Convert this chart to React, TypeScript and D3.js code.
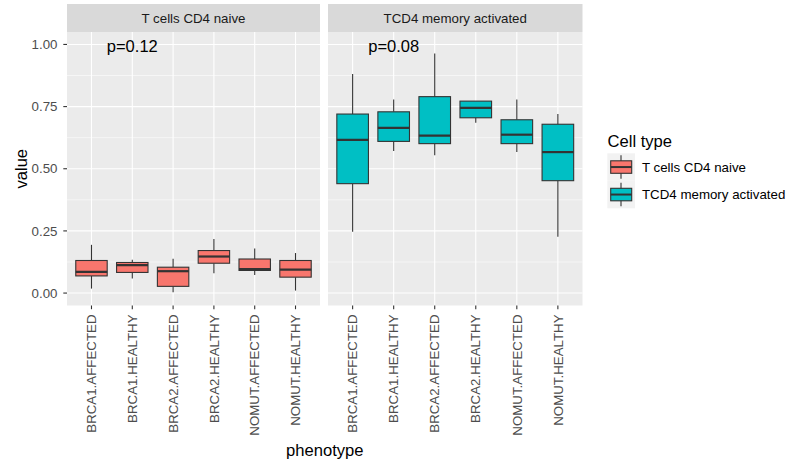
import React from "react";
import * as d3 from "d3";

const phenotypes = [
  "BRCA1.AFFECTED",
  "BRCA1.HEALTHY",
  "BRCA2.AFFECTED",
  "BRCA2.HEALTHY",
  "NOMUT.AFFECTED",
  "NOMUT.HEALTHY",
];

// box stats per phenotype: [whisker low, q1, median, q3, whisker high]
const naiveLow = [0.018, 0.059, 0.003, 0.08, 0.073, 0.01];
const naiveQ1 = [0.069, 0.083, 0.027, 0.12, 0.091, 0.064];
const naiveMed = [0.085, 0.112, 0.088, 0.147, 0.096, 0.094];
const naiveQ3 = [0.131, 0.123, 0.104, 0.171, 0.137, 0.131];
const naiveHigh = [0.194, 0.134, 0.138, 0.217, 0.179, 0.161];

const memLow = [0.247, 0.571, 0.554, 0.685, 0.567, 0.227];
const memQ1 = [0.44, 0.61, 0.601, 0.705, 0.601, 0.452];
const memMed = [0.616, 0.664, 0.633, 0.745, 0.637, 0.567];
const memQ3 = [0.72, 0.729, 0.79, 0.772, 0.697, 0.679];
const memHigh = [0.881, 0.779, 0.964, 0.772, 0.779, 0.72];

const cellTypes = ["T cells CD4 naive", "TCD4 memory activated"];
const pLabels = ["p=0.12", "p=0.08"];
const colors = ["#F8766D", "#00BFC4"];
const yTicks = [0, 0.25, 0.5, 0.75, 1];
const yMinor = [0.125, 0.375, 0.625, 0.875];

const W = 804;
const H = 463;
const panelTop = 32;
const panelBottom = 305.5;
const stripTop = 4;
const panels = [
  { x0: 67, x1: 320 },
  { x0: 328, x1: 582.5 },
];
const font = "'Liberation Sans', Arial, sans-serif";
const axisSize = 13.3;
const titleSize = 16.6;

function Panel({ idx }: { idx: number }) {
  const { x0, x1 } = panels[idx];
  const x = d3.scalePoint<string>().domain(phenotypes).range([x0, x1]).padding(0.6);
  const y = d3.scaleLinear().domain([-0.05, 1.05]).range([panelBottom, panelTop]);
  const bw = x.step() * 0.77;
  const stats = idx === 0
    ? phenotypes.map((p, i) => ({ p, lo: naiveLow[i], q1: naiveQ1[i], med: naiveMed[i], q3: naiveQ3[i], hi: naiveHigh[i] }))
    : phenotypes.map((p, i) => ({ p, lo: memLow[i], q1: memQ1[i], med: memMed[i], q3: memQ3[i], hi: memHigh[i] }));
  return (
    <g>
      <rect x={x0} y={stripTop} width={x1 - x0} height={panelTop - stripTop} fill="#D9D9D9" />
      <text x={(x0 + x1) / 2} y={(stripTop + panelTop) / 2 + 4.7} textAnchor="middle" fontSize={axisSize} fill="#1A1A1A" fontFamily={font}>
        {cellTypes[idx]}
      </text>
      <rect x={x0} y={panelTop} width={x1 - x0} height={panelBottom - panelTop} fill="#EBEBEB" />
      {yMinor.map((t) => (
        <line key={"m" + t} x1={x0} x2={x1} y1={y(t)} y2={y(t)} stroke="#fff" strokeWidth={0.55} />
      ))}
      {yTicks.map((t) => (
        <line key={"g" + t} x1={x0} x2={x1} y1={y(t)} y2={y(t)} stroke="#fff" strokeWidth={1.1} />
      ))}
      {phenotypes.map((p) => (
        <line key={"v" + p} x1={x(p)} x2={x(p)} y1={panelTop} y2={panelBottom} stroke="#fff" strokeWidth={1.1} />
      ))}
      {stats.map((d) => {
        const cx = x(d.p) as number;
        return (
          <g key={d.p}>
            <line x1={cx} x2={cx} y1={y(d.hi)} y2={y(d.q3)} stroke="#333" strokeWidth={1.1} />
            <line x1={cx} x2={cx} y1={y(d.q1)} y2={y(d.lo)} stroke="#333" strokeWidth={1.1} />
            <rect x={cx - bw / 2} y={y(d.q3)} width={bw} height={y(d.q1) - y(d.q3)} fill={colors[idx]} stroke="#333" strokeWidth={1.1} />
            <line x1={cx - bw / 2} x2={cx + bw / 2} y1={y(d.med)} y2={y(d.med)} stroke="#333" strokeWidth={2.2} />
          </g>
        );
      })}
      <text x={x(phenotypes[1])} y={y(1) + 8} textAnchor="middle" fontSize={16.5} fill="#000" fontFamily={font}>
        {pLabels[idx]}
      </text>
      {phenotypes.map((p) => (
        <g key={"t" + p}>
          <line x1={x(p)} x2={x(p)} y1={panelBottom} y2={panelBottom + 3.7} stroke="#333" strokeWidth={1.1} />
          <text
            transform={`translate(${(x(p) as number) + 4.7},${panelBottom + 9}) rotate(-90)`}
            textAnchor="end"
            fontSize={axisSize}
            fill="#4D4D4D"
            fontFamily={font}
          >
            {p}
          </text>
        </g>
      ))}
    </g>
  );
}

export default function App() {
  const y = d3.scaleLinear().domain([-0.05, 1.05]).range([panelBottom, panelTop]);
  const x0 = panels[0].x0;
  return (
    <svg width={W} height={H} style={{ position: "absolute", left: 0, top: 0, background: "#fff" }}>
      <rect width={W} height={H} fill="#fff" />
      {yTicks.map((t) => (
        <g key={t}>
          <line x1={x0 - 3.7} x2={x0} y1={y(t)} y2={y(t)} stroke="#333" strokeWidth={1.1} />
          <text x={x0 - 9.5} y={y(t) + 4.7} textAnchor="end" fontSize={axisSize} fill="#4D4D4D" fontFamily={font}>
            {d3.format(".2f")(t)}
          </text>
        </g>
      ))}
      <text transform={`translate(26.5,${(panelTop + panelBottom) / 2}) rotate(-90)`} textAnchor="middle" fontSize={titleSize} fill="#000" fontFamily={font}>
        value
      </text>
      <Panel idx={0} />
      <Panel idx={1} />
      <text x={(panels[0].x0 + panels[1].x1) / 2} y={456} textAnchor="middle" fontSize={titleSize} fill="#000" fontFamily={font}>
        phenotype
      </text>
      <text x={607.5} y={146.5} fontSize={titleSize} fill="#000" fontFamily={font}>
        Cell type
      </text>
      {cellTypes.map((c, i) => {
        const ky = 153.3 + i * 27.5;
        const cx = 621;
        return (
          <g key={c}>
            <rect x={607.3} y={ky} width={27.7} height={27.5} fill="#F2F2F2" />
            <line x1={cx} x2={cx} y1={ky + 2} y2={ky + 25.5} stroke="#333" strokeWidth={1.1} />
            <rect x={610.7} y={ky + 7.5} width={21} height={12.5} fill={colors[i]} stroke="#333" strokeWidth={1.1} />
            <line x1={610.7} x2={631.7} y1={ky + 13.75} y2={ky + 13.75} stroke="#333" strokeWidth={2} />
            <text x={642} y={ky + 18.5} fontSize={axisSize} fill="#000" fontFamily={font}>
              {c}
            </text>
          </g>
        );
      })}
    </svg>
  );
}
